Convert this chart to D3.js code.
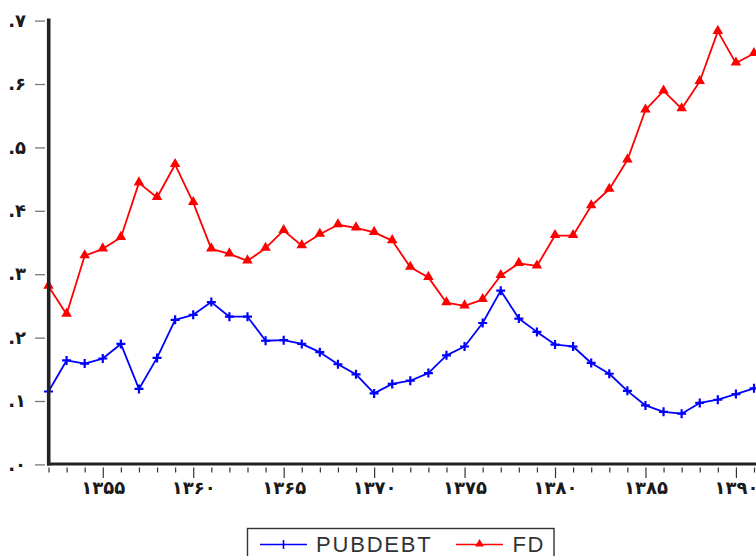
<!DOCTYPE html>
<html>
<head>
<meta charset="utf-8">
<script src="https://cdn.jsdelivr.net/npm/d3@7"></script>
<style>
  html, body { margin: 0; padding: 0; background: #fff; }
  svg { display: block; }
</style>
</head>
<body>
<svg id="chart" width="756" height="556"></svg>
<script>
// Years 1352–1391 (Solar Hijri)
const years = d3.range(1352, 1392);

const pubdebt = [
  0.115, 0.164, 0.159, 0.167, 0.190, 0.119, 0.168, 0.228, 0.236, 0.256,
  0.233, 0.233, 0.195, 0.196, 0.190, 0.177, 0.158, 0.142, 0.112, 0.127,
  0.132, 0.144, 0.172, 0.186, 0.223, 0.274, 0.230, 0.209, 0.189, 0.186,
  0.160, 0.143, 0.116, 0.093, 0.083, 0.080, 0.097, 0.102, 0.111, 0.120
];

const fd = [
  0.281, 0.237, 0.329, 0.340, 0.358, 0.444, 0.421, 0.473, 0.413, 0.340,
  0.332, 0.321, 0.341, 0.369, 0.345, 0.363, 0.378, 0.373, 0.366, 0.353,
  0.311, 0.295, 0.255, 0.250, 0.260, 0.298, 0.317, 0.313, 0.361, 0.361,
  0.408, 0.434, 0.480, 0.559, 0.589, 0.561, 0.604, 0.683, 0.633, 0.648
];

const yTicks = [0, 0.1, 0.2, 0.3, 0.4, 0.5, 0.6, 0.7];
const yTickLabels = [".۰", ".۱", ".۲", ".۳", ".۴", ".۵", ".۶", ".۷"];

const xMajorTicks = [1355, 1360, 1365, 1370, 1375, 1380, 1385, 1390];
const xMajorLabels = ["۱۳۵۵", "۱۳۶۰", "۱۳۶۵", "۱۳۷۰", "۱۳۷۵", "۱۳۸۰", "۱۳۸۵", "۱۳۹۰"];

const seriesNames = ["PUBDEBT", "FD"];
const seriesColors = ["#0000ff", "#ff0000"];

const svg = d3.select("#chart");

const x = d3.scaleLinear().domain([1352, 1391]).range([48.5, 754]);
const y = d3.scaleLinear().domain([0, 0.7]).range([464.4, 20.6]);

const numFont = "'DejaVu Sans', sans-serif";

// Lines
const line = d3.line().x((d, i) => x(years[i])).y(d => y(d));

svg.append("path").datum(fd)
  .attr("d", line).attr("fill", "none")
  .attr("stroke", seriesColors[1]).attr("stroke-width", 1.8)
  .attr("stroke-linejoin", "round");

svg.append("path").datum(pubdebt)
  .attr("d", line).attr("fill", "none")
  .attr("stroke", seriesColors[0]).attr("stroke-width", 1.8)
  .attr("stroke-linejoin", "round");

// Markers
const tri = d3.symbol().type(d3.symbolTriangle).size(48);
svg.append("g").selectAll("path").data(fd).join("path")
  .attr("d", tri)
  .attr("transform", (d, i) => `translate(${x(years[i])},${y(d) - 0.5})`)
  .attr("fill", seriesColors[1]);

const plusSize = 4.5;
svg.append("g").selectAll("path").data(pubdebt).join("path")
  .attr("d", `M${-plusSize},0H${plusSize}M0,${-plusSize}V${plusSize}`)
  .attr("transform", (d, i) => `translate(${x(years[i])},${y(d)})`)
  .attr("stroke", seriesColors[0]).attr("stroke-width", 2.2).attr("fill", "none");

// Y axis
const yAxis = d3.axisLeft(y)
  .tickValues(yTicks)
  .tickFormat((d, i) => yTickLabels[i])
  .tickSize(10)
  .tickPadding(9);

const gy = svg.append("g").attr("transform", "translate(45,0)").call(yAxis);
gy.select(".domain").remove();
gy.selectAll(".tick line").attr("stroke", "#777").attr("stroke-width", 1.3);
gy.selectAll(".tick text")
  .attr("font-family", numFont).attr("font-weight", "bold")
  .attr("font-size", 18).attr("fill", "#1a1a1a")
  .attr("direction", "ltr");

// X axis
const xAxis = d3.axisBottom(x)
  .tickValues(years)
  .tickFormat(d => {
    const k = xMajorTicks.indexOf(d);
    return k >= 0 ? xMajorLabels[k] : "";
  })
  .tickSize(5)
  .tickPadding(9);

const gx = svg.append("g").attr("transform", "translate(0,467.5)").call(xAxis);
gx.select(".domain").remove();
gx.selectAll(".tick line").attr("stroke", "#333").attr("stroke-width", 1.2);
gx.selectAll(".tick").filter(d => xMajorTicks.includes(d))
  .select("line").attr("y2", 10.5);
gx.selectAll(".tick text")
  .attr("font-family", numFont).attr("font-weight", "bold")
  .attr("font-size", 18).attr("fill", "#1a1a1a");

// Frame axes (thick)
svg.append("line")
  .attr("x1", 48.7).attr("x2", 48.7).attr("y1", y(0.7) - 2).attr("y2", 465.5)
  .attr("stroke", "#222").attr("stroke-width", 3.6);
svg.append("line")
  .attr("x1", 47).attr("x2", 756).attr("y1", 464).attr("y2", 464)
  .attr("stroke", "#222").attr("stroke-width", 3);

// Legend
const lg = svg.append("g");
lg.append("rect")
  .attr("x", 247.5).attr("y", 528.5).attr("width", 306.5).attr("height", 40)
  .attr("fill", "#fff").attr("stroke", "#333").attr("stroke-width", 1.4);

const legendItems = [
  { x0: 260, x1: 307, text: 316 },
  { x0: 456, x1: 503, text: 512.5 }
];
legendItems.forEach((it, i) => {
  const ly = 544.5;
  lg.append("line")
    .attr("x1", it.x0).attr("x2", it.x1).attr("y1", ly).attr("y2", ly)
    .attr("stroke", seriesColors[i]).attr("stroke-width", 1.4);
  const cx = (it.x0 + it.x1) / 2;
  if (i === 0) {
    lg.append("path")
      .attr("d", `M${cx},${ly - 4.5}V${ly + 4.5}`)
      .attr("stroke", seriesColors[0]).attr("stroke-width", 1.6);
  } else {
    lg.append("path")
      .attr("d", d3.symbol().type(d3.symbolTriangle).size(34))
      .attr("transform", `translate(${cx},${ly - 0.5})`)
      .attr("fill", seriesColors[1]);
  }
  lg.append("text")
    .attr("x", it.text).attr("y", 551.5)
    .attr("font-family", "'Liberation Sans', Arial, sans-serif")
    .attr("font-size", 22).attr("fill", "#333")
    .attr("letter-spacing", i === 0 ? 1.8 : 1.5)
    .text(seriesNames[i]);
});
</script>
</body>
</html>
